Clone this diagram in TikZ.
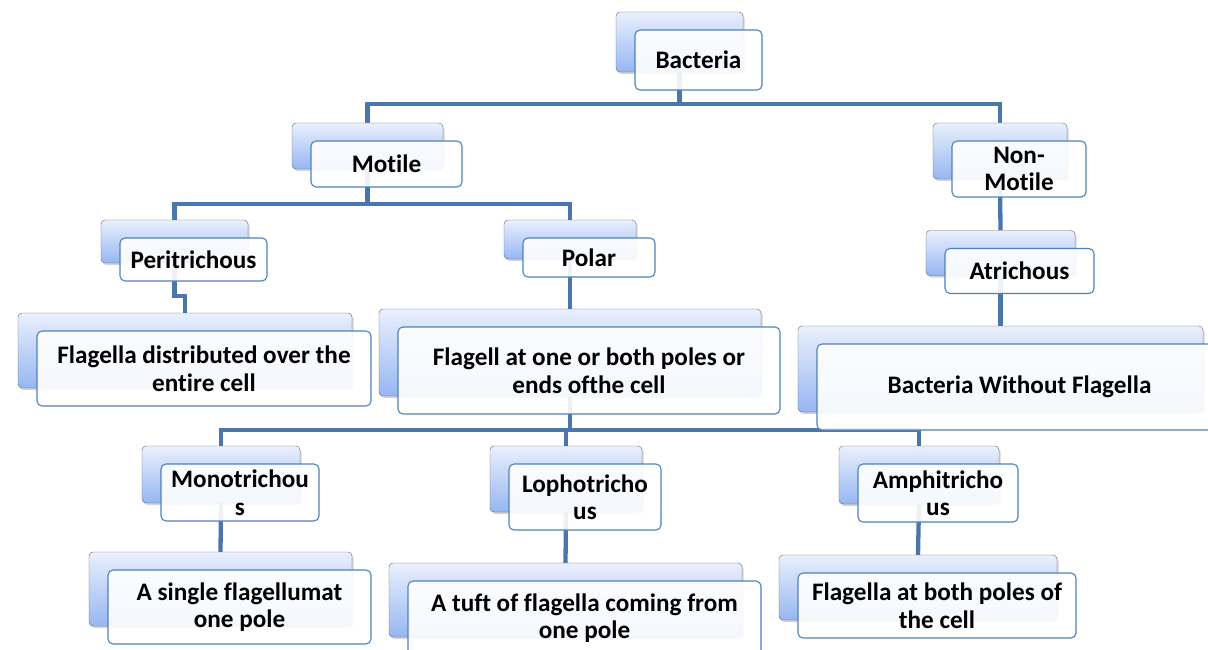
\documentclass[tikz,border=0pt]{standalone}
\usepackage{fontspec}
\setmainfont{Carlito}[Ligatures=NoCommon]
\usetikzlibrary{positioning,shadows,backgrounds}

\definecolor{linea}{RGB}{74,118,173}
\definecolor{bordo}{RGB}{79,129,189}
\definecolor{chiaro}{RGB}{234,240,253}
\definecolor{scuro}{RGB}{150,182,242}

\tikzset{
  misura/.style 2 args={minimum width=#1pt, minimum height=#2pt},
  retro/.style={rectangle, rounded corners=4pt, draw=black!60, top color=chiaro, bottom color=scuro,
    drop shadow={shadow xshift=1.5pt, shadow yshift=-2pt, opacity=0.35}, inner sep=0pt},
  fronte/.style={rectangle, rounded corners=5pt, draw=bordo, line width=1.1pt, fill=white,
    fill opacity=0.9, text opacity=1, align=center, inner sep=0pt,
    font=\fontsize{25.2}{27.5}\selectfont\bfseries},
  ramo/.style={draw=linea, line width=4.3pt}
}

\begin{document}
\begin{tikzpicture}[x=1pt, y=-1pt]
  \useasboundingbox (0,0) rectangle (1208,650);
  \clip (0,0) rectangle (1208,650);

  % Livello 1
  \node[retro, misura={127}{60}] (batB) at (679.5,42) {};
  \node[fronte, misura={127}{60}] (bat) at ([xshift=19pt,yshift=-18pt]batB.center) {Bacteria};

  % Livello 2
  \node[retro, misura={151}{46}] (motB) at (367.5,146) {};
  \node[fronte, misura={151}{46}] (mot) at ([xshift=19pt,yshift=-18pt]motB.center) {Motile};
  \node[retro, misura={134}{56}] (nmotB) at (1000,151) {};
  \node[fronte, misura={134}{56}] (nmot) at ([xshift=19pt,yshift=-18pt]nmotB.center) {Non-\\Motile};

  % Livello 3
  \node[retro, misura={147}{43}] (periB) at (174.5,241.5) {};
  \node[fronte, misura={147}{43}] (peri) at ([xshift=19pt,yshift=-18pt]periB.center) {Peritrichous};
  \node[retro, misura={132}{39}] (polB) at (570,239.5) {};
  \node[fronte, misura={132}{39}] (pol) at ([xshift=19pt,yshift=-18pt]polB.center) {Polar};
  \node[retro, misura={149}{45}] (atrB) at (1000.5,253) {};
  \node[fronte, misura={149}{45}] (atr) at ([xshift=19pt,yshift=-18pt]atrB.center) {Atrichous};

  % Descrizioni
  \node[retro, misura={334}{75}] (fdisB) at (185,350.5) {};
  \node[fronte, misura={334}{75}] (fdis) at ([xshift=19pt,yshift=-18pt]fdisB.center) {Flagella distributed over the\\entire cell};
  \node[retro, misura={382}{87}] (fpolB) at (570,352.5) {};
  \node[fronte, misura={382}{87}] (fpol) at ([xshift=19pt,yshift=-18pt]fpolB.center) {Flagell at one or both poles or\\ends ofthe cell};
  \node[retro, misura={405}{86}] (senzaB) at (1000.5,369) {};
  \node[fronte, misura={405}{86}] (senza) at ([xshift=19pt,yshift=-18pt]senzaB.center) {Bacteria Without Flagella};

  % Livello 4
  \node[retro, misura={158}{57}] (monoB) at (221,474.5) {};
  \node[fronte, misura={158}{57}] (mono) at ([xshift=19pt,yshift=-18pt]monoB.center) {Monotrichou\\s};
  \node[retro, misura={152}{66}] (lofoB) at (566,479) {};
  \node[fronte, misura={152}{66}] (lofo) at ([xshift=19pt,yshift=-18pt]lofoB.center) {Lophotricho\\us};
  \node[retro, misura={160}{58}] (amphB) at (919,475) {};
  \node[fronte, misura={160}{58}] (amph) at ([xshift=19pt,yshift=-18pt]amphB.center) {Amphitricho\\us};

  % Foglie
  \node[retro, misura={263}{74}] (singB) at (220.5,589) {};
  \node[fronte, misura={263}{74}] (sing) at ([xshift=19pt,yshift=-18pt]singB.center) {A single flagellumat\\one pole};
  \node[retro, misura={353}{74}] (tuftB) at (565.5,600) {};
  \node[fronte, misura={353}{74}] (tuft) at ([xshift=19pt,yshift=-18pt]tuftB.center) {A tuft of flagella coming from\\one pole};
  \node[retro, misura={278}{65}] (fbothB) at (918,587.5) {};
  \node[fronte, misura={278}{65}] (fboth) at ([xshift=19pt,yshift=-18pt]fbothB.center) {Flagella at both poles of\\the cell};

  % Rami
  \coordinate (bus1) at (0,104);
  \coordinate (bus2) at (0,204);
  \coordinate (gomito) at (0,296);
  \coordinate (bus3) at (0,430);
  \begin{pgfonlayer}{background}
    \draw[ramo] (batB.south) -- (batB.south |- bus1) -| (motB.north);
    \draw[ramo] (batB.south |- bus1) -| (nmotB.north);
    \draw[ramo] (motB.south) -- (motB.south |- bus2) -| (periB.north);
    \draw[ramo] (motB.south |- bus2) -| (polB.north);
    \draw[ramo] (periB.south) -- (periB.south |- gomito) -| (fdisB.north);
    \draw[ramo] (polB.south) -- (fpolB.north);
    \draw[ramo] (nmotB.south) -- (atrB.north);
    \draw[ramo] (atrB.south) -- (senzaB.north);
    \draw[ramo] (fpolB.south) -- (fpolB.south |- bus3) -| (monoB.north);
    \draw[ramo] (fpolB.south |- bus3) -| (lofoB.north);
    \draw[ramo] (fpolB.south |- bus3) -| (amphB.north);
    \draw[ramo] (monoB.south) -- (singB.north);
    \draw[ramo] (lofoB.south) -- (tuftB.north);
    \draw[ramo] (amphB.south) -- (fbothB.north);
  \end{pgfonlayer}
\end{tikzpicture}
\end{document}
